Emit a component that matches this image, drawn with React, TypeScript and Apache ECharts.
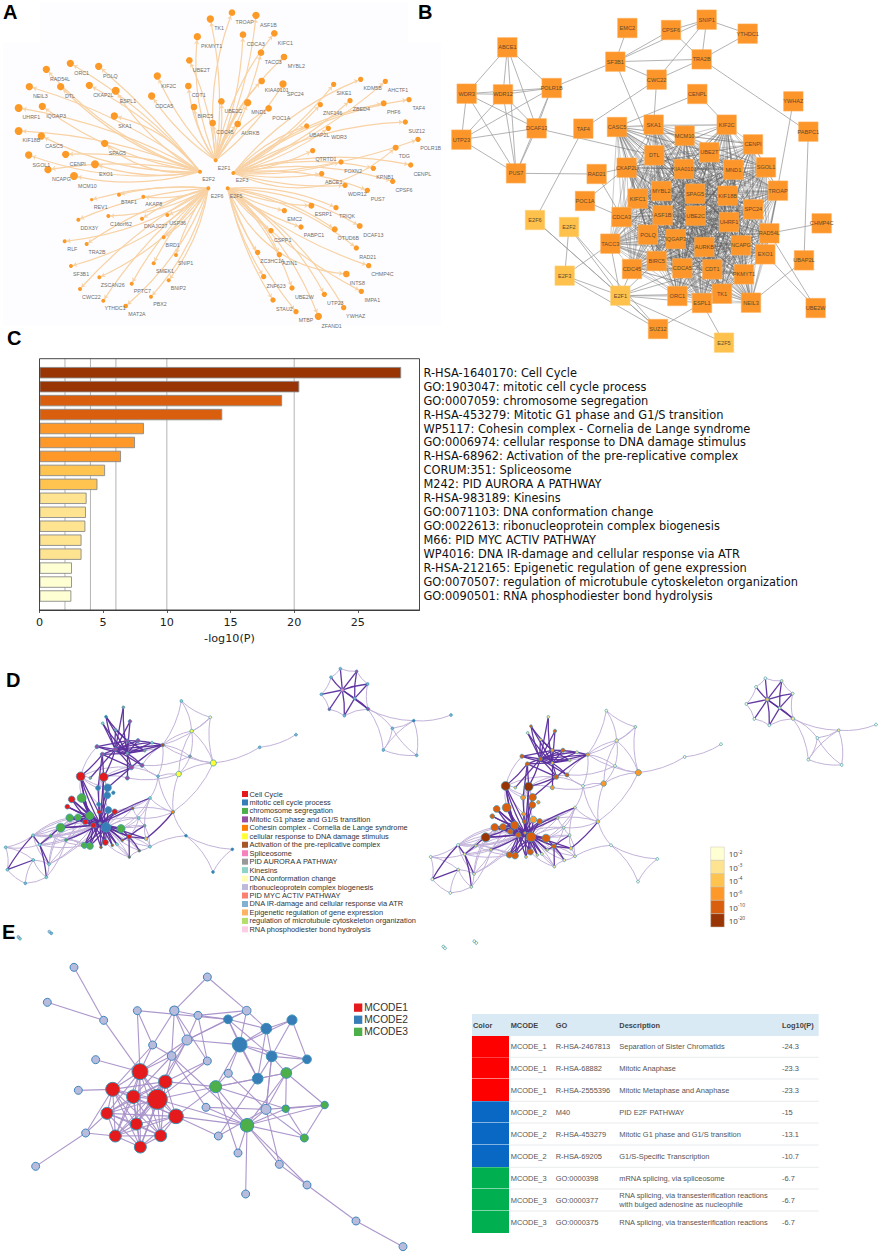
import React, { useEffect, useRef } from "react";
import * as echarts from "echarts";

const WIDTH = 879;
const HEIGHT = 1253;
const SANS = "Liberation Sans";
const DEJAVU = "DejaVu Sans";

// ---------- Panel A: name, x, y, labelX, labelY, radius (3x reference units)
const aHubs: any[] = [
  ["E2F1", 647, 481, 672, 504, 6], ["E2F2", 600, 515, 626, 538, 6], ["E2F3", 700, 519, 726, 541, 6],
  ["E2F6", 625, 565, 651, 588, 6], ["E2F5", 683, 565, 708, 588, 6],
];
const aE2F1: any[] = [
  ["TK1", 631, 57, 657, 85, 11], ["TROAP", 696, 38, 734, 65, 10], ["ASF1B", 768, 46, 805, 74, 11],
  ["PKMYT1", 592, 110, 635, 139, 11], ["CDCA3", 729, 104, 767, 131, 10], ["KIFC1", 823, 100, 856, 128, 10],
  ["TACC3", 783, 158, 820, 186, 10], ["MYBL2", 852, 171, 889, 198, 10], ["UBE2T", 568, 181, 604, 209, 10],
  ["KIAA0101", 785, 243, 830, 271, 10], ["SPC24", 849, 252, 886, 281, 11], ["CDT1", 565, 258, 596, 285, 10],
  ["UBE2C", 664, 304, 700, 332, 10], ["BIRC5", 582, 321, 616, 349, 10], ["MND1", 743, 308, 776, 336, 11],
  ["POC1A", 806, 325, 844, 353, 10], ["CDC45", 638, 369, 675, 396, 10], ["AURKB", 713, 372, 751, 399, 10],
  ["KIF2C", 472, 228, 506, 257, 11], ["CDCA5", 455, 288, 493, 317, 11],
];
const aE2F2: any[] = [
  ["ORC1", 211, 190, 245, 219, 11], ["RAD54L", 139, 208, 180, 238, 11], ["POLQ", 296, 199, 331, 228, 11],
  ["DTL", 182, 260, 210, 289, 11], ["CKAP2L", 268, 256, 310, 285, 11], ["ESPL1", 347, 272, 384, 302, 12],
  ["NEIL3", 88, 260, 121, 287, 11], ["IQGAP3", 127, 319, 168, 347, 11], ["UHRF1", 56, 324, 94, 352, 12],
  ["SKA1", 343, 348, 375, 377, 11], ["KIF18B", 56, 393, 94, 421, 12], ["CASC5", 124, 408, 162, 437, 11],
  ["SPAG5", 314, 430, 352, 458, 11], ["SGOL1", 86, 465, 124, 494, 11], ["CENPI", 197, 463, 233, 491, 11],
  ["EXO1", 285, 493, 318, 522, 12], ["NCAPG", 144, 509, 184, 537, 11], ["MCM10", 222, 528, 262, 557, 12],
];
const aE2F6: any[] = [
  ["BTAF1", 357, 584, 387, 607, 6], ["AKAP8", 430, 590, 461, 613, 6], ["REV1", 275, 599, 302, 622, 5],
  ["C16orf62", 325, 648, 363, 671, 6], ["DDX3Y", 235, 659, 268, 683, 6], ["USP36", 502, 645, 533, 668, 6],
  ["DNAJC27", 426, 656, 467, 679, 6], ["RLF", 194, 724, 217, 747, 6], ["TRA2B", 260, 732, 291, 755, 6],
  ["BRD1", 491, 712, 518, 735, 6], ["SNIP1", 528, 765, 557, 788, 6], ["SF3B1", 213, 798, 243, 821, 6],
  ["SMEK1", 461, 790, 495, 813, 6], ["ZSCAN26", 298, 832, 338, 855, 6], ["PPTC7", 395, 851, 427, 874, 6],
  ["BNIP2", 506, 841, 535, 864, 6], ["CWC22", 240, 867, 274, 891, 6], ["PBX2", 453, 890, 480, 913, 6],
  ["YTHDC1", 310, 902, 345, 925, 6], ["MAT2A", 377, 918, 411, 942, 7],
];
const aE2F5: any[] = [
  ["ESRP1", 934, 617, 970, 643, 9], ["TRIQK", 1008, 623, 1041, 648, 8], ["EMC2", 853, 632, 884, 658, 8],
  ["DCAF13", 1079, 678, 1120, 705, 9], ["PABPC1", 903, 681, 942, 706, 8], ["OTUD6B", 1004, 688, 1045, 715, 9],
  ["CSPP1", 813, 692, 848, 719, 8], ["RAD21", 1069, 744, 1103, 771, 8], ["ZC3HC1A", 773, 757, 817, 783, 8],
  ["AZIN1", 838, 764, 869, 790, 8], ["CHMP4C", 1106, 797, 1147, 823, 8], ["INTS8", 1039, 822, 1072, 848, 10],
  ["ZNF623", 791, 830, 828, 857, 8], ["UBE2W", 876, 864, 913, 890, 8], ["IMPA1", 1084, 874, 1117, 900, 8],
  ["UTP23", 973, 883, 1006, 909, 8], ["STAU2", 819, 900, 853, 927, 8], ["YWHAZ", 1031, 923, 1067, 949, 8],
  ["MTBP", 888, 935, 918, 960, 8], ["ZFAND1", 955, 949, 995, 978, 11],
];
const aE2F3: any[] = [
  ["SIKE1", 1001, 253, 1032, 279, 8], ["KDM5B", 1082, 238, 1118, 264, 8], ["AHCTF1", 1156, 244, 1194, 270, 8],
  ["TAF4", 1227, 299, 1256, 325, 8], ["ZBED4", 1050, 302, 1084, 328, 8], ["PHF6", 1151, 310, 1181, 336, 9],
  ["ZNF146", 961, 314, 998, 340, 8], ["SUZ12", 1216, 366, 1250, 392, 8], ["POLR1B", 1254, 418, 1292, 444, 8],
  ["UBAP2L", 920, 378, 958, 404, 8], ["WDR3", 985, 385, 1017, 411, 8], ["TDG", 1187, 443, 1213, 469, 9],
  ["QTRTD1", 938, 452, 978, 478, 8], ["CENPL", 1232, 495, 1267, 521, 8], ["FOXN2", 1023, 486, 1059, 512, 8],
  ["KPNB1", 1120, 505, 1155, 530, 8], ["ABCE1", 965, 521, 1001, 547, 8], ["CPSF6", 1178, 544, 1212, 570, 8],
  ["WDR12", 1035, 556, 1072, 582, 8], ["PUS7", 1102, 571, 1133, 597, 8],
];
const aGroups: [string, any[]][] = [["E2F1", aE2F1], ["E2F2", aE2F2], ["E2F6", aE2F6], ["E2F5", aE2F5], ["E2F3", aE2F3]];
const aCurves: Record<string, number> = { TDG: -0.32, INTS8: -0.3, CDCA5: 0.1, KIF2C: 0.1, SPAG5: 0.22, SKA1: -0.18, POLQ: -0.05 };

// ---------- Panel B: name, x, y (3x reference units)
const bGenes: any[] = [
  ["EMC2", 592, 84], ["CPSF6", 723, 90], ["SNIP1", 830, 59], ["YTHDC1", 953, 101], ["ABCE1", 232, 142], ["SF3B1", 556, 185],
  ["TRA2B", 815, 178], ["CWC22", 680, 239], ["WDR3", 110, 281], ["WDR12", 219, 283], ["POLR1B", 365, 264], ["CENPL", 802, 282],
  ["YWHAZ", 1090, 304], ["UTP23", 94, 419], ["DCAF13", 320, 385], ["TAF4", 460, 386], ["PABPC1", 1135, 395], ["PUS7", 258, 520],
  ["RAD21", 500, 522], ["POC1A", 465, 603], ["CHMP4C", 1175, 670], ["UBAP2L", 1122, 781], ["UBE2W", 1157, 924], ["SUZ12", 684, 987],
];
const bCore: any[] = [
  ["CASC5", 561, 381], ["SKA1", 671, 374], ["MCM10", 764, 407], ["KIF2C", 890, 374], ["CENPI", 969, 433], ["UBE2T", 838, 457],
  ["DTL", 673, 466], ["CKAP2L", 590, 503], ["KIAA0101", 762, 507], ["MND1", 910, 509], ["SGOL1", 1008, 502], ["TROAP", 1044, 572],
  ["MYBL2", 694, 573], ["SPAG5", 795, 581], ["KIF18B", 893, 587], ["KIFC1", 623, 596], ["SPC24", 970, 628], ["ASF1B", 698, 646],
  ["UBE2C", 797, 647], ["CDCA3", 575, 651], ["UHRF1", 897, 666], ["RAD54L", 1018, 700], ["POLQ", 654, 704], ["IQGAP3", 737, 717],
  ["NCAPG", 933, 736], ["AURKB", 823, 741], ["TACC3", 541, 731], ["EXO1", 1006, 763], ["BIRC5", 680, 783], ["CDCA5", 757, 805],
  ["CDT1", 847, 808], ["CDC45", 606, 807], ["PKMYT1", 942, 823], ["ORC1", 742, 888], ["TK1", 876, 881], ["ESPL1", 816, 909], ["NEIL3", 963, 908],
];
const bFactors: any[] = [["E2F6", 315, 660], ["E2F2", 417, 681], ["E2F3", 404, 827], ["E2F1", 571, 887], ["E2F5", 882, 1028]];
const bLinks: string[] = [
  "ABCE1-WDR3", "ABCE1-WDR12", "ABCE1-POLR1B", "ABCE1-DCAF13", "ABCE1-PUS7", "WDR3-WDR12", "WDR3-POLR1B", "WDR3-UTP23", "WDR3-DCAF13", "WDR3-PUS7",
  "WDR12-POLR1B", "WDR12-UTP23", "WDR12-DCAF13", "WDR12-PUS7", "POLR1B-UTP23", "POLR1B-DCAF13", "POLR1B-PUS7", "UTP23-DCAF13", "UTP23-PUS7", "DCAF13-PUS7",
  "POLR1B-SF3B1", "EMC2-SF3B1", "SF3B1-CPSF6", "SF3B1-SNIP1", "SF3B1-TRA2B", "SF3B1-CWC22", "CPSF6-SNIP1", "CPSF6-TRA2B", "SNIP1-TRA2B", "SNIP1-YTHDC1",
  "SNIP1-CWC22", "YTHDC1-TRA2B", "TRA2B-CWC22", "TRA2B-PABPC1", "CWC22-SKA1", "CWC22-TAF4", "SF3B1-DTL", "CENPL-CASC5", "CENPL-KIF2C", "YWHAZ-RAD54L",
  "PABPC1-UBAP2L", "CHMP4C-RAD54L", "UBAP2L-NEIL3", "UBE2W-RAD54L", "UBE2W-EXO1", "DCAF13-DTL", "TAF4-E2F6", "PUS7-RAD21", "RAD21-CKAP2L", "RAD21-CDCA3",
  "POC1A-CKAP2L", "POC1A-CDCA3", "E2F6-E2F1", "E2F2-E2F3", "E2F2-E2F1", "E2F2-SUZ12", "E2F3-E2F1", "E2F3-TACC3", "E2F3-SUZ12", "E2F1-ORC1",
  "E2F1-ESPL1", "E2F1-TK1", "E2F1-SUZ12", "E2F1-E2F5", "E2F1-CDC45", "E2F1-TACC3", "E2F1-CDCA5", "E2F1-BIRC5", "E2F1-CDT1", "E2F5-ESPL1",
  "SUZ12-ESPL1", "E2F6-SUZ12",
];

// ---------- Panel C
const cCategories = [
  "R-HSA-1640170: Cell Cycle", "GO:1903047: mitotic cell cycle process", "GO:0007059: chromosome segregation",
  "R-HSA-453279: Mitotic G1 phase and G1/S transition", "WP5117: Cohesin complex - Cornelia de Lange syndrome",
  "GO:0006974: cellular response to DNA damage stimulus", "R-HSA-68962: Activation of the pre-replicative complex",
  "CORUM:351: Spliceosome", "M242: PID AURORA A PATHWAY", "R-HSA-983189: Kinesins", "GO:0071103: DNA conformation change",
  "GO:0022613: ribonucleoprotein complex biogenesis", "M66: PID MYC ACTIV PATHWAY", "WP4016: DNA IR-damage and cellular response via ATR",
  "R-HSA-212165: Epigenetic regulation of gene expression", "GO:0070507: regulation of microtubule cytoskeleton organization",
  "GO:0090501: RNA phosphodiester bond hydrolysis",
];
const cValues = [28.4, 20.4, 19.05, 14.35, 8.2, 7.5, 6.4, 5.15, 4.55, 3.7, 3.65, 3.6, 3.3, 3.3, 2.55, 2.55, 2.5];
const cColorRanks = [5, 5, 4, 4, 3, 3, 3, 2, 2, 1, 1, 1, 1, 1, 0, 0, 0];
const cGridLines = [2, 4, 6, 10, 20];
const cTicks = [0, 5, 10, 15, 20, 25];
const heatScale = ["#ffffd4", "#fee391", "#fec44f", "#fe9929", "#d95f0e", "#993404"];

// ---------- Panel D: id, x, y, radius, left colour key, right colour rank (3x reference units)
const dPalette: Record<string, string> = {
  r: "#e41a1c", b: "#377eb8", g: "#4daf4a", p: "#984ea3", o: "#ff7f00", y: "#ffff33", w: "#a65628", k: "#f781bf",
  a: "#999999", t: "#8dd3c7", l: "#ffffb3", v: "#bebada", s: "#fb8072", u: "#80b1d3", f: "#fdb462", m: "#b3de69", c: "#fccde5",
};
const dNodes: any[] = [
  ["t1", 370, 142, 3, "a", 1], ["t2", 318, 170, 3, "b", 4], ["t3", 390, 184, 4, "p", 4], ["t4", 308, 190, 3, "t", 1],
  ["t5", 347, 210, 3, "a", 2], ["t6", 414, 242, 5, "p", 4], ["t7", 382, 242, 4, "p", 3], ["t8", 456, 248, 3, "t", 1],
  ["t9", 488, 255, 4, "w", 3], ["t10", 291, 260, 5, "p", 4], ["t11", 346, 268, 5, "p", 4], ["t12", 382, 280, 3, "a", 2],
  ["t13", 434, 272, 3, "a", 2], ["t14", 307, 283, 5, "p", 4], ["t15", 394, 322, 6, "p", 4], ["t16", 426, 316, 5, "p", 4],
  ["t17", 382, 354, 5, "p", 3], ["t18", 271, 354, 3, "a", 2],
  ["r1", 242, 349, 12, "r", 5], ["r2", 311, 351, 12, "r", 5], ["b1", 294, 384, 6, "b", 3], ["b2", 323, 383, 10, "b", 4],
  ["b3", 322, 406, 9, "b", 4], ["b4", 340, 398, 4, "b", 3], ["r3", 215, 418, 9, "r", 4], ["g1", 245, 414, 12, "g", 4],
  ["r4", 202, 440, 6, "r", 4], ["b5", 296, 433, 5, "b", 3], ["b6", 325, 450, 9, "b", 3], ["r5", 344, 455, 7, "r", 4],
  ["r6", 298, 456, 5, "r", 4], ["g2", 209, 473, 10, "g", 4], ["g3", 234, 472, 9, "g", 4], ["g4", 269, 467, 11, "g", 4],
  ["r7", 256, 486, 7, "r", 4], ["r8", 280, 496, 7, "r", 4], ["b7", 318, 502, 13, "b", 4], ["g5", 182, 503, 12, "g", 5],
  ["g6", 363, 506, 11, "g", 4], ["r9", 387, 530, 6, "r", 4], ["r10", 316, 547, 8, "r", 4], ["g7", 253, 556, 8, "g", 4],
  ["g8", 270, 558, 9, "g", 4], ["h", 300, 490, 3, "a", 3],
  ["w1", 450, 414, 3, "t", 1], ["w2", 398, 445, 3, "w", 2], ["w3", 416, 474, 3, "t", 1], ["w4", 434, 497, 3, "a", 1],
  ["w5", 438, 536, 4, "f", 2], ["w6", 450, 560, 3, "t", 1], ["w7", 418, 572, 3, "w", 1], ["w8", 388, 591, 3, "w", 1],
  ["w9", 351, 553, 3, "t", 1], ["w10", 367, 541, 3, "w", 2], ["w11", 337, 556, 3, "w", 2], ["w12", 303, 562, 3, "w", 2],
  ["l1", 99, 526, 3, "t", 0], ["l2", 119, 554, 3, "t", 1], ["l3", 17, 562, 3, "t", 0], ["l4", 22, 629, 3, "t", 0],
  ["l5", 76, 670, 3, "u", 0], ["l6", 139, 652, 3, "t", 1], ["l7", 147, 613, 3, "t", 1], ["l8", 100, 600, 3, "t", 1],
  ["l9", 152, 528, 3, "g", 2], ["l10", 198, 540, 3, "g", 2],
  ["q1", 474, 349, 3, "u", 0], ["y1", 536, 342, 7, "y", 3], ["a1", 570, 289, 3, "a", 0], ["y2", 640, 309, 8, "y", 3],
  ["y3", 575, 213, 4, "y", 1], ["y4", 631, 172, 3, "l", 1], ["g9", 544, 123, 3, "t", 0], ["x1", 779, 262, 3, "u", 0],
  ["x2", 888, 224, 3, "u", 0], ["o1", 519, 456, 4, "o", 2], ["z1", 558, 527, 3, "b", 0], ["z2", 697, 568, 3, "b", 0], ["z3", 639, 636, 3, "b", 0],
  ["s0", 1027, 90, 4, "k", 2], ["s1", 993, 52, 3, "u", 0], ["s2", 1021, 26, 3, "u", 0], ["s3", 1070, 34, 3, "p", 1],
  ["s4", 1103, 72, 3, "u", 0], ["s5", 964, 103, 3, "u", 0], ["s6", 988, 148, 3, "p", 0], ["s7", 1033, 167, 3, "u", 0],
  ["s8", 1104, 147, 4, "p", 1], ["s9", 1064, 115, 3, "u", 1],
  ["q2", 1177, 205, 3, "u", 0], ["q3", 1241, 182, 3, "b", 1], ["q4", 1150, 270, 3, "u", 0], ["q5", 1250, 286, 3, "u", 0], ["q6", 1353, 165, 3, "u", 0],
  ["e1", 55, 831, 3, "v", 0], ["e2", 60, 836, 3, "t", 0], ["e3", 148, 815, 3, "v", 0], ["e4", 154, 820, 3, "u", 0],
];
// hub: neighbours
const dDarkStars: [string, string][] = [
  ["h", "r1 r2 b1 b2 b3 r3 g1 r4 b5 b6 r5 r6 g2 g3 g4 r7 r8 b7 g5 g6 r9 r10 g7 g8 w1 w2 w5 w10 w11 w12 l10 w9"],
  ["b7", "r10 g6 r9 r5 b6 r6 r8 w12 w11 g8 g7 w9 w10 g4 r1 r2"],
  ["t11", "t2 t3 t4 t5 t6 t7 t8 t9 t10 t12 t13 t14 t15 t16 t18 r2 t1"],
  ["t12", "t1 t3 t6 t7 t8 t9 t10 t13 t15 t16 t17 t2 t4 t14"],
  ["t7", "t2 t10 t13 t9 t5"],
  ["r9", "w4 w5 w8 w7 w10 g6"],
  ["r8", "r1 g4 g5 r3 g1 g2 g3 g7 g8 r10 w12"],
  ["g4", "r1 r3 g1 r4 g2 g3 g5 r7"],
  ["t15", "r2 t14 b2 t9"],
  ["t14", "r1 r2 b1"],
  ["o1", "w5"],
  ["l9", "g5 l2"],
  ["l4", "l1 l8"],
  ["l2", "l6 l1 l7"],
  ["s0", "s1 s2 s3 s4 s5 s6 s7 s8 s9"],
  ["s9", "s3 s4 s7 s8"],
];
const dLightStars: [string, string][] = [
  ["t9", "g9 y3 y4 a1 y2 q1 t16 t13"],
  ["g9", "y4 y3"],
  ["y3", "y4 y2"],
  ["y4", "y2"],
  ["a1", "y2 t16 y3"],
  ["y1", "q1 y2 o1 t17 a1 y3"],
  ["y2", "x1 o1"],
  ["x1", "x2"],
  ["q1", "o1 w1 t15 t16"],
  ["o1", "z1 w1 w2 w3"],
  ["z1", "z2 z3 w6"],
  ["z2", "z3"],
  ["w1", "w2 w3 w4 r5 b7 g6"],
  ["w2", "w3 b6 r5 b7 r8"],
  ["w3", "w4 r9 b7 g6 h"],
  ["w4", "w5 w6 g6 h"],
  ["w6", "w5 w7 r9 b7"],
  ["w7", "w8 r9 g6 b7 h"],
  ["w8", "w9 r10 h b7"],
  ["l3", "l1 l4 l2 l8"],
  ["l4", "l5"],
  ["l5", "l6 l8"],
  ["l6", "l7 l8 l10"],
  ["l7", "l8 l1 h g5 r8 g2 g3"],
  ["l1", "l9 h l2 g7 r8 g2 g3 g4"],
  ["l2", "l10 h r8 g3 g7 g4"],
  ["l9", "h g7 r8 g3 g8"],
  ["l10", "r8 g8 g4 r7"],
  ["r1", "g1 t18 b1 t15 b5 t10 b2"],
  ["r2", "b2 b3 b1 t17 b5 t16 b6"],
  ["s1", "s2 s5"], ["s2", "s3"], ["s3", "s4"], ["s4", "s8"], ["s8", "s7 q2 q3 q4"], ["s7", "s6"], ["s6", "s5"],
  ["q2", "q3 q4 q5"], ["q3", "q4 q5 q6"], ["q4", "q5"],
  ["e1", "e2"], ["e3", "e4"],
];
const dLegendNames = [
  "Cell Cycle", "mitotic cell cycle process", "chromosome segregation", "Mitotic G1 phase and G1/S transition",
  "Cohesin complex - Cornelia de Lange syndrome", "cellular response to DNA damage stimulus", "Activation of the pre-replicative complex",
  "Spliceosome", "PID AURORA A PATHWAY", "Kinesins", "DNA conformation change", "ribonucleoprotein complex biogenesis",
  "PID MYC ACTIV PATHWAY", "DNA IR-damage and cellular response via ATR", "Epigenetic regulation of gene expression",
  "regulation of microtubule cytoskeleton organization", "RNA phosphodiester bond hydrolysis",
];
const dLegendKeys = ["r", "b", "g", "p", "o", "y", "w", "k", "a", "t", "l", "v", "s", "u", "f", "m", "c"];
const dScaleExponents = ["-2", "-3", "-4", "-6", "-10", "-20"];

// ---------- Panel E: id, x, y, radius, group (3x reference units)
const eNodes: any[] = [
  ["a", 222, 52, 12, "n"], ["b", 142, 157, 12, "n"], ["c", 311, 211, 12, "n"], ["d", 412, 182, 12, "n"], ["e", 523, 182, 14, "n"],
  ["f", 622, 81, 12, "n"], ["g", 594, 196, 12, "n"], ["h", 740, 182, 13, "n"], ["i", 561, 270, 15, "n"], ["j", 458, 285, 12, "n"],
  ["k", 515, 318, 13, "n"], ["l", 622, 333, 12, "n"], ["m", 287, 329, 12, "n"], ["o", 235, 421, 12, "n"], ["p", 685, 370, 12, "n"],
  ["q", 618, 472, 12, "n"], ["s", 798, 478, 15, "n"], ["t", 257, 549, 12, "n"], ["u", 107, 649, 12, "n"], ["v", 655, 558, 12, "n"],
  ["w", 714, 609, 12, "n"], ["x", 838, 643, 12, "n"], ["y", 737, 732, 12, "n"], ["z", 921, 705, 12, "n"], ["aa", 1068, 813, 12, "n"], ["ab", 1209, 890, 12, "n"],
  ["R1", 420, 365, 24, "r"], ["R2", 472, 448, 30, "r"], ["R3", 496, 395, 20, "r"], ["R4", 338, 418, 21, "r"], ["R5", 400, 440, 20, "r"], ["R6", 321, 490, 18, "r"],
  ["R7", 528, 499, 22, "r"], ["R8", 409, 522, 18, "r"], ["R9", 346, 558, 18, "r"], ["R10", 482, 557, 18, "r"], ["R11", 421, 591, 18, "r"],
  ["B1", 684, 208, 13, "b"], ["B2", 799, 236, 16, "b"], ["B3", 876, 210, 15, "b"], ["B4", 719, 284, 22, "b"], ["B5", 815, 319, 16, "b"], ["B6", 921, 328, 13, "b"], ["B7", 773, 386, 16, "b"],
  ["G1", 859, 369, 16, "g"], ["G2", 647, 410, 18, "g"], ["G3", 857, 476, 11, "g"], ["G4", 974, 465, 11, "g"], ["G5", 741, 526, 20, "g"], ["G6", 913, 564, 12, "g"],
];
const eStars: [string, string][] = [
  ["a", "c"], ["b", "c"], ["c", "R1"], ["d", "R1 B1 j"], ["e", "f j i g k l"], ["f", "h"], ["g", "h B1 i l"], ["h", "B1 B4 B2 i"],
  ["i", "B4 B1 R3 k R1 R8"], ["j", "k R1 R4"], ["k", "R1 q G5 R3 R5"], ["l", "R3 R2"], ["m", "R1"], ["o", "R4"], ["t", "R6 R4 R9 u"],
  ["p", "B4 s G2"], ["B1", "B4 B2 B7 B5"], ["B2", "B3 B4 B5 B7"], ["B3", "B4 B5 B6"], ["B4", "B5 B6 B7 G2"], ["B5", "B6 B7 G1 s"], ["G1", "B7 B6 G3 G4 G5 s G2"],
  ["G2", "G5 G3 R2 R7 R3 B7 w"], ["G3", "G4 G5 G6"], ["G4", "G5 G6 s"], ["G5", "G6 s R7 R2 x y z q w"], ["s", "G6 v x B5"], ["v", "R7 B7"], ["z", "aa x"], ["aa", "ab"], ["q", "s"],
  ["R1", "R2 R3 R4 R5 R6 R7 R8 R9 R10 R11"], ["R2", "R3 R4 R5 R6 R7 R8 R9 R10 R11"], ["R3", "R4 R5 R6 R7 R8 R9 R10 R11"],
  ["R4", "R5 R6 R7 R8 R9 R10 R11"], ["R5", "R6 R7 R8 R9 R10 R11"], ["R6", "R7 R8 R9 R10 R11"], ["R7", "R8 R9 R10 R11"],
  ["R8", "R9 R10 R11"], ["R9", "R10 R11"], ["R10", "R11"],
];
const eFills: Record<string, string> = { n: "#b8bbdc", r: "#e41a1c", b: "#377eb8", g: "#4daf4a" };
const eLegendNames = ["MCODE1", "MCODE2", "MCODE3"];

// ---------- Table
const tHeaders = ["Color", "MCODE", "GO", "Description", "Log10(P)"];
const tColors = ["#ff0000", "#ff0000", "#ff0000", "#0868c4", "#0868c4", "#0868c4", "#00b050", "#00b050", "#00b050"];
const tCodes = ["MCODE_1", "MCODE_1", "MCODE_1", "MCODE_2", "MCODE_2", "MCODE_2", "MCODE_3", "MCODE_3", "MCODE_3"];
const tTerms = ["R-HSA-2467813", "R-HSA-68882", "R-HSA-2555396", "M40", "R-HSA-453279", "R-HSA-69205", "GO:0000398", "GO:0000377", "GO:0000375"];
const tDescriptions = [
  "Separation of Sister Chromatids", "Mitotic Anaphase", "Mitotic Metaphase and Anaphase", "PID E2F PATHWAY",
  "Mitotic G1 phase and G1/S transition", "G1/S-Specific Transcription", "mRNA splicing, via spliceosome",
  "RNA splicing, via transesterification reactions\nwith bulged adenosine as nucleophile", "RNA splicing, via transesterification reactions",
];
const tLogs = ["-24.3", "-23.3", "-23.3", "-15", "-13.1", "-10.7", "-6.7", "-6.7", "-6.7"];

const panelLetters: [string, number, number][] = [["A", 3, 12], ["B", 418, 12], ["C", 7, 338], ["D", 6, 680], ["E", 2, 932]];

function aSeries(): any {
  const toNode = (n: any[]) => ({
    name: n[0],
    value: [n[1] / 3, n[2] / 3],
    symbolSize: (n[5] * 2) / 3,
    label: { show: true, position: "inside", offset: [(n[3] - n[1]) / 3, (n[4] - n[2]) / 3], fontSize: 5.3, color: "#6e6e6e", fontFamily: SANS },
    itemStyle: { color: "#fc9a27", borderWidth: 0 },
  });
  const data = [...aHubs.map((n) => toNode(n))];
  const links: any[] = [];
  aGroups.forEach(([hub, list]) => {
    list.forEach((n, i) => {
      data.push(toNode(n));
      links.push({ source: hub, target: n[0], lineStyle: { curveness: aCurves[n[0]] ?? (i % 2 ? 0.13 : -0.09) } });
    });
  });
  return {
    type: "graph", coordinateSystem: "cartesian2d", xAxisIndex: 0, yAxisIndex: 0, silent: true, z: 3,
    edgeSymbol: ["none", "arrow"], edgeSymbolSize: 4, data, links,
    lineStyle: { color: "#f8d2a4", width: 1.2, opacity: 1 }, emphasis: { disabled: true },
  };
}

function bSeries(): any {
  const originX = 430;
  const toNode = (n: any[], fill: string, edge: string) => ({
    name: n[0],
    value: [originX + n[1] / 3, n[2] / 3],
    symbol: "rect",
    symbolSize: 19.5,
    label: { show: true, position: "inside", fontSize: 5.6, color: "#5f4a2c", fontFamily: SANS },
    itemStyle: { color: fill, borderColor: edge, borderWidth: 0.5 },
  });
  const data = [
    ...bGenes.map((n) => toNode(n, "#fd962a", "#fdb25f")),
    ...bCore.map((n) => toNode(n, "#fd962a", "#fdb25f")),
    ...bFactors.map((n) => toNode(n, "#fec14c", "#fed27f")),
  ];
  const links: any[] = bLinks.map((p) => {
    const [source, target] = p.split("-");
    return { source, target, lineStyle: { color: "#a0a0a0", width: 0.8, opacity: 1 } };
  });
  bCore.forEach((n, i) => {
    for (let j = i + 1; j < bCore.length; j++) {
      links.push({ source: n[0], target: bCore[j][0], lineStyle: { color: "#5c5c5c", width: 0.4, opacity: 0.8 } });
    }
  });
  return {
    type: "graph", coordinateSystem: "cartesian2d", xAxisIndex: 0, yAxisIndex: 0, silent: true, z: 3,
    data, links, emphasis: { disabled: true },
  };
}

function dSeries(shiftX: number, shiftY: number, colorOf: (n: any[]) => string): any {
  const data = dNodes.map((n) => ({
    name: n[0],
    value: [shiftX + n[1] / 3, 660 + shiftY + n[2] / 3],
    symbolSize: (n[3] * 2) / 3 + 0.8,
    itemStyle: { color: colorOf(n), borderColor: "#3a96b5", borderWidth: 0.7 },
  }));
  const links: any[] = [];
  dLightStars.forEach(([hub, rest]) => rest.split(" ").forEach((t, i) => {
    links.push({ source: hub, target: t, lineStyle: { color: "#c3b3da", width: 1, opacity: 1, curveness: i % 2 ? 0.14 : -0.12 } });
  }));
  dDarkStars.forEach(([hub, rest]) => rest.split(" ").forEach((t, i) => {
    links.push({ source: hub, target: t, lineStyle: { color: "#5a2d9c", width: 1.3, opacity: 0.95, curveness: i % 3 === 0 ? 0.06 : 0 } });
  }));
  return {
    type: "graph", coordinateSystem: "cartesian2d", xAxisIndex: 0, yAxisIndex: 0, silent: true, z: 3,
    data, links, emphasis: { disabled: true },
  };
}

function eSeries(): any {
  const data = eNodes.map((n) => ({
    name: n[0],
    value: [n[1] / 3, 950 + n[2] / 3],
    symbolSize: (n[3] * 2) / 3,
    itemStyle: { color: eFills[n[4]], borderColor: n[4] === "n" ? "#3f86bd" : "#3a92b5", borderWidth: 1 },
  }));
  const links: any[] = [];
  eStars.forEach(([hub, rest]) => rest.split(" ").forEach((t) => {
    links.push({ source: hub, target: t, lineStyle: { color: "#a690c8", width: 1.1, opacity: 0.95 } });
  }));
  return {
    type: "graph", coordinateSystem: "cartesian2d", xAxisIndex: 0, yAxisIndex: 0, silent: true, z: 3,
    data, links, emphasis: { disabled: true },
  };
}

function txt(text: string, x: number, y: number, size: number, fill: string, extra: any = {}): any {
  return { type: "text", silent: true, style: { text, x, y, fontSize: size, fontFamily: SANS, fill, verticalAlign: "middle", ...extra } };
}

function graphics(): any[] {
  const out: any[] = [];
  out.push({ type: "rect", silent: true, z: 0, shape: { x: 40, y: 3, width: 368, height: 40 }, style: { fill: "#fdfdff" } });
  out.push({ type: "rect", silent: true, z: 0, shape: { x: 3, y: 43, width: 438, height: 282 }, style: { fill: "#fdfdff" } });
  panelLetters.forEach(([t, x, y]) => out.push(txt(t, x, y, 20, "#000", { fontWeight: "bold" })));
  // bar chart frame
  out.push({ type: "rect", silent: true, z: 5, shape: { x: 39.5, y: 358.7, width: 380, height: 251.3 }, style: { fill: "none", stroke: "#333", lineWidth: 0.9 } });
  // panel D legend
  dLegendNames.forEach((t, i) => {
    const y = 794 + i * 8.46;
    out.push({ type: "rect", silent: true, shape: { x: 242, y: y - 3, width: 6, height: 6 }, style: { fill: dPalette[dLegendKeys[i]] } });
    out.push(txt(t, 249.5, y, 7.4, "#333"));
  });
  // panel D colour scale
  heatScale.forEach((c, i) => {
    const y = 847 + i * 13.33;
    out.push({ type: "rect", silent: true, shape: { x: 710.7, y, width: 13.6, height: 13.33 }, style: { fill: c, stroke: "#c9c4b4", lineWidth: 0.5 } });
    out.push({
      type: "text", silent: true,
      style: {
        x: 728.7, y: y + 6.7, verticalAlign: "middle", text: `{a|10}{b|${dScaleExponents[i]}}`,
        rich: {
          a: { fontSize: 8, fontFamily: "Open Sans", fill: "#444" },
          b: { fontSize: 5, fontFamily: "Open Sans", fill: "#444", verticalAlign: "top", padding: [0, 0, 4, 0] },
        },
      },
    });
  });
  // panel E legend
  eLegendNames.forEach((t, i) => {
    const y = 1007.5 + i * 12.1;
    out.push({ type: "rect", silent: true, shape: { x: 354, y: y - 4, width: 8.3, height: 8.3 }, style: { fill: [eFills.r, eFills.b, eFills.g][i] } });
    out.push(txt(t, 364.3, y, 10.2, "#333"));
  });
  // table
  const cols = [473, 510.7, 555.7, 619.3, 782];
  const rowEdges = [1036, 1057.3, 1079, 1101.3, 1123, 1145, 1167.3, 1189, 1211, 1233.3];
  out.push({ type: "rect", silent: true, shape: { x: 472, y: 1014, width: 346.7, height: 22 }, style: { fill: "#daeaf5" } });
  tHeaders.forEach((t, i) => out.push(txt(t, cols[i], 1025, 7.4, "#444", { fontWeight: "bold" })));
  tCodes.forEach((code, i) => {
    const top = rowEdges[i], bottom = rowEdges[i + 1], mid = (top + bottom) / 2;
    out.push({ type: "rect", silent: true, shape: { x: 472, y: top, width: 37, height: bottom - top - 0.4 }, style: { fill: tColors[i] } });
    if (i < tCodes.length - 1) {
      out.push({ type: "line", silent: true, shape: { x1: 509, y1: bottom, x2: 818.7, y2: bottom }, style: { stroke: "#dfe3e7", lineWidth: 0.7 } });
    }
    out.push(txt(code, cols[1], mid, 7.45, "#555"));
    out.push(txt(tTerms[i], cols[2], mid, 7.45, "#555"));
    out.push(txt(tDescriptions[i], cols[3], mid, 7.45, "#555", { lineHeight: 9.7 }));
    out.push(txt(tLogs[i], cols[4], mid, 7.45, "#555"));
  });
  return out;
}

export default function App() {
  const ref = useRef<HTMLDivElement>(null);
  useEffect(() => {
    const chart = echarts.init(ref.current!, undefined, { renderer: "svg", width: WIDTH, height: HEIGHT });
    chart.setOption({
      animation: false,
      backgroundColor: "#ffffff",
      grid: [
        { left: 0, top: 0, width: WIDTH, height: HEIGHT },
        { left: 39.5, top: 365.7, width: 380, height: 237.3 },
      ],
      xAxis: [
        { type: "value", gridIndex: 0, min: 0, max: WIDTH, show: false },
        {
          type: "value", gridIndex: 1, min: 0, max: 29.84, offset: 7,
          splitLine: { show: false },
          axisLine: { show: true, lineStyle: { color: "#333", width: 0.9 } },
          axisTick: { show: true, length: 3, customValues: cTicks, lineStyle: { color: "#333", width: 0.8 } },
          axisLabel: { customValues: cTicks, fontSize: 11.2, color: "#222", fontFamily: DEJAVU, margin: 7 },
          name: "-log10(P)", nameLocation: "middle", nameGap: 23,
          nameTextStyle: { fontSize: 11.2, color: "#222", fontFamily: DEJAVU },
        },
      ],
      yAxis: [
        { type: "value", gridIndex: 0, min: 0, max: HEIGHT, inverse: true, show: false },
        {
          type: "category", gridIndex: 1, data: cCategories, inverse: true, position: "right",
          axisLine: { show: false }, axisTick: { show: false }, splitLine: { show: false },
          axisLabel: { show: true, interval: 0, margin: 4, fontSize: 11.4, color: "#111", fontFamily: DEJAVU, align: "left" },
        },
      ],
      graphic: graphics(),
      series: [
        {
          type: "custom", xAxisIndex: 1, yAxisIndex: 1, z: 1, silent: true, clip: false,
          data: cGridLines.map((v) => [v, 0]), encode: { x: 0, y: 1 },
          renderItem: (params: any, api: any) => {
            const x = api.coord([api.value(0), 0])[0];
            const c = params.coordSys;
            return {
              type: "line",
              shape: { x1: x, y1: c.y - 7, x2: x, y2: c.y + c.height + 7 },
              style: { stroke: "#b4b4b4", lineWidth: 1 },
            };
          },
        },
        {
          type: "bar", xAxisIndex: 1, yAxisIndex: 1, z: 2, silent: true, barWidth: 11.4,
          data: cValues.map((v, i) => ({ value: v, itemStyle: { color: heatScale[cColorRanks[i]], borderColor: "#8a8a8a", borderWidth: 0.9 } })),
        },
        aSeries(),
        bSeries(),
        dSeries(0, 0, (n) => dPalette[n[4]]),
        dSeries(425, 9.6, (n) => heatScale[n[5]]),
        eSeries(),
      ],
    });
    return () => chart.dispose();
  }, []);
  return <div ref={ref} style={{ position: "absolute", left: 0, top: 0, width: WIDTH, height: HEIGHT }} />;
}
